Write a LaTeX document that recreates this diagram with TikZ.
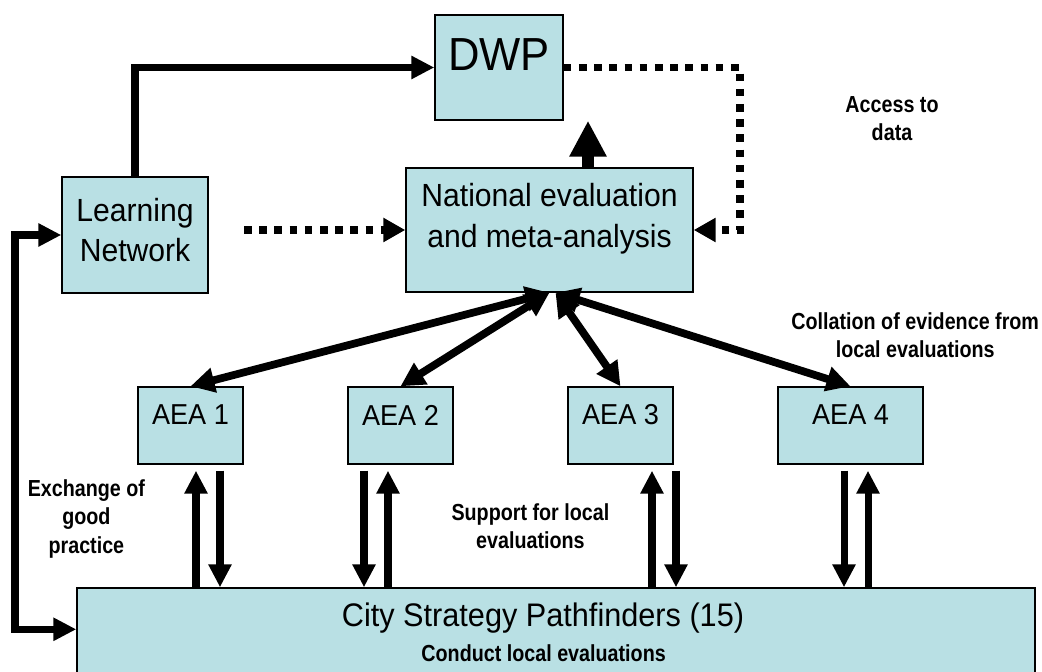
\documentclass[tikz,border=0pt]{standalone}
\usepackage{fontspec}
\setmainfont{Liberation Sans}[FakeStretch=0.94]
\newfontfamily\notefont{Liberation Sans}[FakeStretch=0.85]
\usepackage{tikz}
\usetikzlibrary{arrows.meta, calc, positioning}
\definecolor{boxblue}{RGB}{185,224,228}
\tikzset{>=latex,
	box/.style={shape=rectangle, draw, fill=boxblue, line width=1pt, inner sep=0pt},
	boxtext/.style={anchor=center, align=center, inner sep=0pt, font=\fontsize{22.8}{29}\selectfont},
	note/.style={anchor=center, align=center, inner sep=0pt, font=\notefont\bfseries\fontsize{16.5}{20}\selectfont},
	solidarrow/.style={line width=5pt, line join=miter, -{Triangle[length=0.575cm, width=0.55cm]}},
	dblarrow/.style={line width=5pt, line join=miter, {Triangle[length=0.575cm, width=0.55cm]}-{Triangle[length=0.575cm, width=0.55cm]}},
	diagarrow/.style={line width=5.5pt, {Triangle[length=0.6cm, width=0.6cm]}-{Triangle[length=0.6cm, width=0.6cm]}},
	vuparrow/.style={line width=5pt, -{Triangle[length=0.575cm, width=0.55cm]}},
	bigarrow/.style={line width=8.5pt, -{Triangle[length=0.9cm, width=0.875cm]}},
	dotarrow/.style={line width=0.19cm, dash pattern=on 0.19cm off 0.19cm, -{Triangle[length=0.55cm, width=0.575cm]}}
}

\begin{document}
\begin{tikzpicture}
	% Boxes, labels and arrows:
	\useasboundingbox (0,0) rectangle (26.05,16.775);
	\node[box, minimum width=3.2cm, minimum height=2.625cm] (dwp) at (12.475, 15.0875){};
	\node[boxtext, font=\fontsize{33}{38}\selectfont] (dwptext) at (12.475, 15.4){DWP};
	\node[box, minimum width=3.65cm, minimum height=2.9cm] (ln) at (3.375, 10.9){};
	\node[boxtext] (lntext) at (3.375, 11.025){Learning\\Network};
	\node[box, minimum width=7.175cm, minimum height=3.1cm] (nat) at (13.7375, 11.025){};
	\node[boxtext] (nattext) at (13.7375, 11.3){National evaluation\\and meta-analysis};
	\foreach \n/\x/\w in {1/4.7625/2.625, 2/10.0125/2.625, 3/15.5125/2.625, 4/21.2625/3.625}{
		\node[box, minimum width=\w cm, minimum height=1.925cm] (aea\n) at (\x, 6.1375){};
		\node[boxtext, font=\fontsize{20.5}{26}\selectfont] (aeatext\n) at (\x, 6.4){AEA \n};
	}
	\node[box, minimum width=23.95cm, minimum height=2.575cm] (csp) at (13.9, 0.7875){};
	\node[boxtext, font=\fontsize{23.2}{27}\selectfont] (csptext) at (13.575, 1.325){City Strategy Pathfinders (15)};
	\node[note] (conduct) at (13.59, 0.45){Conduct local evaluations};
	\node[note] (access) at (22.3, 13.8){Access to\\data};
	\node[note] (collation) at (22.88, 8.4){Collation of evidence from\\local evaluations};
	\node[note] (exchange) at (2.16, 3.8){Exchange of\\good\\practice};
	\node[note] (support) at (13.26, 3.625){Support for local\\evaluations};
	\coordinate (upx) at (14.7, 0);
	\coordinate (dcorner) at (18.5, 15.0875);
	\coordinate (lnout) at (6.1, 11.025);
	\coordinate (leftbend) at (0.375, 0);
	\coordinate (cspin) at ([yshift=-1.05cm]csp.north west);
	\draw[solidarrow] (ln.north) |- (dwp.west);
	\draw[bigarrow] (nat.north -| upx) -- (dwp.south -| upx);
	\draw[dotarrow] (dwp.east) -- (dcorner) |- (nat.east);
	\draw[dotarrow] (lnout) -- (nat.west);
	\draw[dblarrow] (ln.west) -- (ln.west -| leftbend) -- (cspin -| leftbend) -- (cspin);
	\draw[diagarrow] (nat.south) -- (aea1.north);
	\draw[diagarrow] (nat.south) -- (aea2.north);
	\draw[diagarrow] ([xshift=0.15cm]nat.south) -- (aea3.north);
	\draw[diagarrow] ([xshift=0.15cm]nat.south) -- (aea4.north);
	\foreach \n/\xu/\xd in {1/4.9/5.5, 2/9.7/9.1, 3/16.3/16.9, 4/21.7/21.1}{
		\draw[vuparrow, shorten >=0.15cm] (\xu,0 |- csp.north) -- (\xu,0 |- aea\n.south);
		\draw[vuparrow, shorten <=0.15cm] (\xd,0 |- aea\n.south) -- (\xd,0 |- csp.north);
	}
\end{tikzpicture}
\end{document}
